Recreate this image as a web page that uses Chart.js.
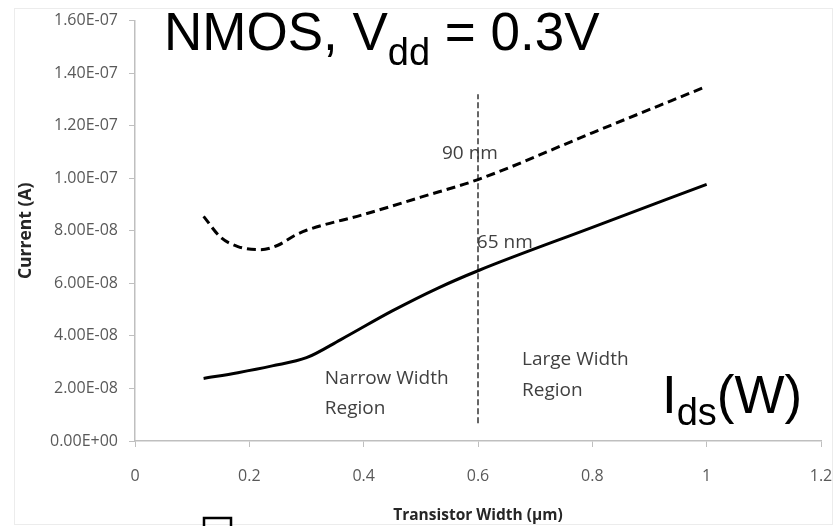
<!DOCTYPE html>
<html>
<head>
<meta charset="utf-8">
<script src="https://cdn.jsdelivr.net/npm/chart.js@4"></script>
<style>
  html, body { margin: 0; padding: 0; background: #fff; }
  canvas { display: block; }
</style>
</head>
<body>
<canvas id="chart" width="833" height="526"></canvas>
<script>
// Transistor width (um) and drain current (A)
const widths90 = [0.12, 0.15, 0.18, 0.22, 0.25, 0.28, 0.30, 0.40, 0.50, 0.60, 0.80, 1.00];
const current90 = [8.55e-8, 7.75e-8, 7.40e-8, 7.28e-8, 7.45e-8, 7.83e-8, 8.02e-8, 8.62e-8, 9.28e-8, 9.95e-8, 1.173e-7, 1.35e-7];

const widths65 = [0.12, 0.18, 0.24, 0.30, 0.36, 0.45, 0.53, 0.60, 0.80, 1.00];
const current65 = [2.38e-8, 2.60e-8, 2.86e-8, 3.17e-8, 3.86e-8, 4.95e-8, 5.82e-8, 6.48e-8, 8.13e-8, 9.77e-8];

// narrow / large width boundary
const dividerX = [0.6, 0.6];
const dividerY = [6.8e-9, 1.32e-7];

const xTickValues = [0, 0.2, 0.4, 0.6, 0.8, 1.0, 1.2];
const xTickLabels = ['0', '0.2', '0.4', '0.6', '0.8', '1', '1.2'];
const yTickValues = [0, 2e-8, 4e-8, 6e-8, 8e-8, 1e-7, 1.2e-7, 1.4e-7, 1.6e-7];
const yTickLabels = ['0.00E+00', '2.00E-08', '4.00E-08', '6.00E-08', '8.00E-08', '1.00E-07', '1.20E-07', '1.40E-07', '1.60E-07'];

const toPoints = (xs, ys) => xs.map((x, i) => ({ x, y: ys[i] }));

const axisGray = '#bfbfbf';
const tickFont = { family: 'Open Sans', size: 16 };

// in-plot notes
const overlay = {
    id: 'overlay',
    beforeDraw(chart) {
        const ctx = chart.ctx;
        ctx.save();
        ctx.fillStyle = '#fff';
        ctx.fillRect(0, 0, chart.width, chart.height);
        ctx.strokeStyle = '#ececec';
        ctx.lineWidth = 1;
        ctx.strokeRect(14.5, 8.5, 818, 516);
        ctx.restore();
    },
    afterDatasetsDraw(chart) {
        const { ctx, scales: { x, y } } = chart;
        ctx.save();
        ctx.fillStyle = '#404040';
        ctx.font = '19px "Open Sans"';
        ctx.textBaseline = 'middle';
        ctx.textAlign = 'left';
        const note = (text, wx, wy) => ctx.fillText(text, x.getPixelForValue(wx), y.getPixelForValue(wy));
        note('90 nm', 0.537, 1.095e-7);
        note('65 nm', 0.598, 7.55e-8);
        note('Narrow Width', 0.332, 2.39e-8);
        note('Region', 0.332, 1.25e-8);
        note('Large Width', 0.677, 3.11e-8);
        note('Region', 0.677, 1.93e-8);
        ctx.restore();
    },
    afterDraw(chart) {
        const ctx = chart.ctx;
        ctx.save();
        ctx.fillStyle = '#000';
        ctx.textBaseline = 'alphabetic';
        ctx.textAlign = 'left';
        const big = '53px "Liberation Sans"';
        const sub = '38px "Liberation Sans"';

        // NMOS, Vdd = 0.3V
        let cx = 164;
        ctx.font = big;
        ctx.fillText('NMOS, V', cx, 50);
        cx += ctx.measureText('NMOS, V').width;
        ctx.font = sub;
        ctx.fillText('dd', cx, 65);
        cx += ctx.measureText('dd').width;
        ctx.font = big;
        ctx.fillText(' = 0.3V', cx, 50);

        // Ids(W)
        cx = 662;
        ctx.fillText('I', cx, 413);
        cx += ctx.measureText('I').width;
        ctx.font = sub;
        ctx.fillText('ds', cx, 425);
        cx += ctx.measureText('ds').width;
        ctx.font = big;
        ctx.fillText('(W)', cx, 413);

        // stray box at the bottom of the slide
        ctx.strokeStyle = '#000';
        ctx.lineWidth = 2.5;
        ctx.strokeRect(204, 518, 27, 20);
        ctx.restore();
    }
};

new Chart(document.getElementById('chart'), {
    type: 'scatter',
    data: {
        datasets: [
            {
                label: '90 nm',
                data: toPoints(widths90, current90),
                showLine: true,
                borderColor: '#000',
                borderWidth: 3,
                borderDash: [9, 5],
                cubicInterpolationMode: 'monotone',
                pointRadius: 0
            },
            {
                label: '65 nm',
                data: toPoints(widths65, current65),
                showLine: true,
                borderColor: '#000',
                borderWidth: 3,
                cubicInterpolationMode: 'monotone',
                pointRadius: 0
            },
            {
                label: 'divider',
                data: toPoints(dividerX, dividerY),
                showLine: true,
                borderColor: '#333',
                borderWidth: 1.5,
                borderDash: [6, 3],
                pointRadius: 0
            }
        ]
    },
    options: {
        responsive: false,
        animation: false,
        events: [],
        layout: { padding: { top: 19, right: 12, left: 16, bottom: 0 } },
        plugins: {
            legend: { display: false },
            tooltip: { enabled: false }
        },
        scales: {
            x: {
                type: 'linear',
                min: 0,
                max: 1.2,
                afterBuildTicks: s => { s.ticks = xTickValues.map(v => ({ value: v })); },
                afterFit: s => { s.height = 85; s.paddingLeft = 0; s.paddingRight = 0; },
                ticks: {
                    color: '#595959',
                    font: tickFont,
                    padding: 20,
                    maxRotation: 0,
                    callback: (v, i) => xTickLabels[i]
                },
                grid: { drawOnChartArea: false, color: axisGray, tickLength: 6 },
                border: { color: axisGray, width: 1.5 },
                title: {
                    display: true,
                    text: 'Transistor Width (µm)',
                    color: '#262626',
                    font: { family: 'Open Sans', size: 15.5, weight: 'bold' },
                    padding: { top: 0, bottom: 1 }
                }
            },
            y: {
                type: 'linear',
                min: 0,
                max: 1.6e-7,
                afterBuildTicks: s => { s.ticks = yTickValues.map(v => ({ value: v })); },
                afterFit: s => { s.width = 119; },
                ticks: {
                    color: '#595959',
                    font: tickFont,
                    padding: 11,
                    callback: (v, i) => yTickLabels[i]
                },
                grid: { drawOnChartArea: false, color: axisGray, tickLength: 6 },
                border: { color: axisGray, width: 1.5 },
                title: {
                    display: true,
                    text: 'Current (A)',
                    color: '#262626',
                    font: { family: 'Open Sans', size: 17.5, weight: 'bold' },
                    padding: 0
                }
            }
        }
    },
    plugins: [overlay]
});
</script>
</body>
</html>
